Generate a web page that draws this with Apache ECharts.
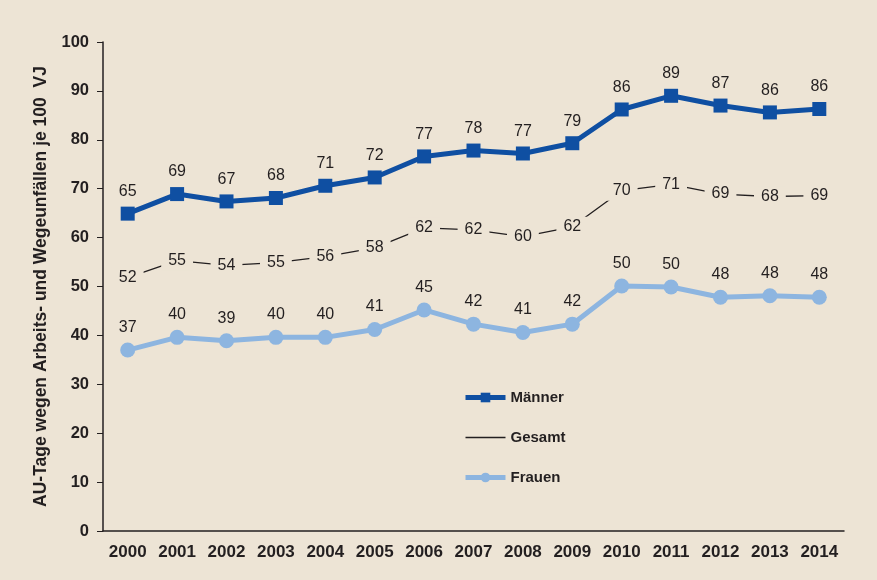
<!DOCTYPE html>
<html><head><meta charset="utf-8">
<script src="https://cdn.jsdelivr.net/npm/echarts@6/dist/echarts.min.js"></script>
<style>html,body{margin:0;padding:0;background:#ede4d5;}#c{width:877px;height:580px;}</style>
</head><body><div id="c"></div>
<script>
const years = ['2000','2001','2002','2003','2004','2005','2006','2007','2008','2009','2010','2011','2012','2013','2014'];
const maenner = [64.9, 68.9, 67.4, 68.1, 70.6, 72.3, 76.6, 77.8, 77.2, 79.3, 86.2, 89.0, 87.0, 85.6, 86.3];
const gesamt  = [51.8, 55.3, 54.3, 54.9, 56.1, 57.9, 62.0, 61.6, 60.2, 62.2, 69.6, 70.9, 68.9, 68.4, 68.6];
const frauen  = [37.0, 39.6, 38.9, 39.6, 39.6, 41.2, 45.2, 42.3, 40.6, 42.3, 50.1, 49.9, 47.8, 48.1, 47.8];
const yTicks = [0,10,20,30,40,50,60,70,80,90,100];

const bg = '#ede4d5';
const ink = '#231f20';
const blue = '#0f4fa2';
const light = '#8db5e0';
const font = "Arial, 'Liberation Sans', sans-serif";
const chart = echarts.init(document.getElementById('c'));
const lbl = {show:true, position:'top', distance:7, fontFamily:font, fontSize:16, color:ink,
  formatter: p => Math.round(p.value)};
chart.setOption({
  backgroundColor: bg,
  animation: false,
  grid: {left:103, right:33, top:42, bottom:49},
  legend: {
    orient:'vertical', left:463, top:390, padding:0, itemGap:25, itemWidth:40, itemHeight:12,
    textStyle:{fontFamily:font, fontSize:15, fontWeight:'bold', color:ink},
    data:[
      {name:'Männer', lineStyle:{width:5, color:blue}, itemStyle:{color:blue}},
      {name:'Gesamt', lineStyle:{width:1.5, color:ink}, itemStyle:{color:'transparent', borderWidth:0}},
      {name:'Frauen', lineStyle:{width:5, color:light}, itemStyle:{color:light}}
    ]
  },
  xAxis: {
    type:'category', data:years, boundaryGap:true,
    axisLine:{lineStyle:{color:ink, width:1.5}},
    axisTick:{show:false},
    axisLabel:{fontFamily:font, fontSize:17, fontWeight:'bold', color:ink, margin:13}
  },
  yAxis: {
    type:'value', min:0, max:100, interval:10,
    name:'AU-Tage wegen Arbeits- und Wegeunfällen je 100  VJ',
    nameLocation:'middle', nameGap:52,
    nameTextStyle:{fontFamily:font, fontSize:17.5, fontWeight:'bold', color:ink},
    axisLine:{show:true, lineStyle:{color:ink, width:1.5}},
    axisTick:{show:true, inside:false, length:6, lineStyle:{color:ink}},
    splitLine:{show:false},
    axisLabel:{fontFamily:font, fontSize:16.5, fontWeight:'bold', color:ink, margin:14,
      formatter: v => yTicks.includes(v) ? String(v) : ''}
  },
  series: [
    {name:'Männer', type:'line', data:maenner, symbol:'rect', symbolSize:14,
      lineStyle:{width:5, color:blue}, itemStyle:{color:blue}, label:lbl},
    {name:'Gesamt', type:'line', data:gesamt, symbol:'circle', symbolSize:2,
      lineStyle:{width:1.3, color:ink}, itemStyle:{color:ink},
      label:{show:true, position:'inside', fontFamily:font, fontSize:16, color:ink,
        backgroundColor:bg, padding:[2,7], formatter: p => Math.round(p.value)}},
    {name:'Frauen', type:'line', data:frauen, symbol:'circle', symbolSize:15,
      lineStyle:{width:5, color:light}, itemStyle:{color:light}, label:lbl}
  ]
});
</script></body></html>
